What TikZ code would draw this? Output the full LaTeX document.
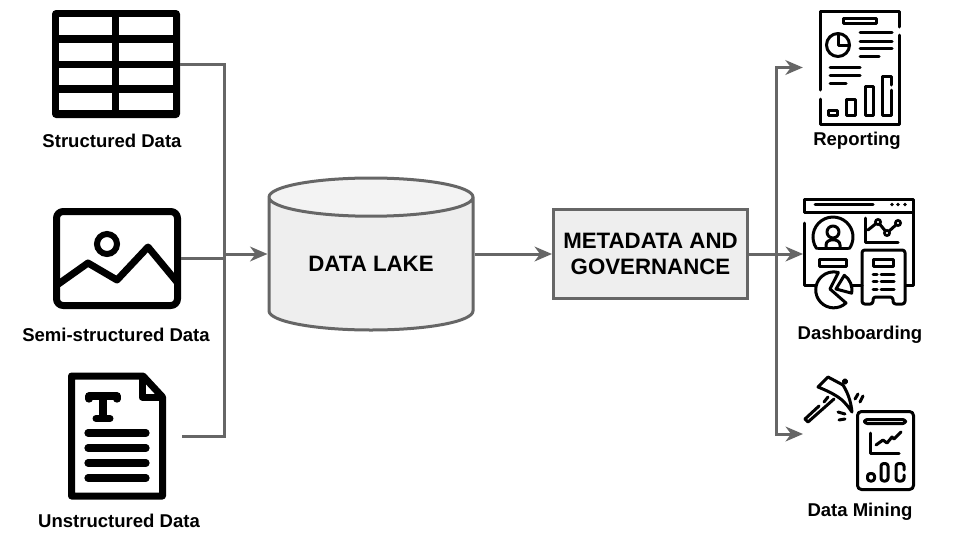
\documentclass[tikz,border=0pt]{standalone}
\usepackage{fontspec}
\setmainfont{Liberation Sans}
\definecolor{flowgrey}{HTML}{666666}
\definecolor{shapefill}{HTML}{EEEEEE}
\definecolor{lakecap}{HTML}{F3F3F3}
\usetikzlibrary{shapes.geometric, arrows.meta, positioning}
\tikzstyle{flowline} = [line width=2.25pt, color=flowgrey]
\tikzstyle{arrow} = [-{Stealth[length=13pt, width=11pt, inset=4pt]}, line width=2.25pt, color=flowgrey]

\begin{document}
\begin{tikzpicture}[x=0.75pt, y=-0.75pt,
    iconbox/.style={inner sep=0pt, outer sep=0pt},
    iconlabel/.style={inner sep=0pt, text height=10pt, text depth=3pt, font=\fontsize{13.9}{16}\selectfont\bfseries},
    metabox/.style={rectangle, draw=flowgrey, fill=shapefill, line width=2.25pt, minimum width=145.5pt, minimum height=67pt,
      inner sep=0pt, align=center, font=\fontsize{16.7}{19.5}\selectfont\bfseries},
    lakecyl/.style={cylinder, shape border rotate=90, aspect=0.305, draw=flowgrey, line width=2.25pt, cylinder uses custom fill,
      cylinder body fill=shapefill, cylinder end fill=lakecap, minimum width=153pt, minimum height=114pt, inner sep=0pt,
      font=\fontsize{16.7}{19.5}\selectfont\bfseries},
    thickicon/.style={line width=5.25pt, line cap=round, line join=round},
    thinicon/.style={line width=2.25pt, line cap=round, line join=round}
  ]
    \useasboundingbox (0,0) rectangle (960,540);

    % sources
    \node[iconbox, minimum width=96pt, minimum height=81pt] (tbl) at (116,64.5) {};
    \node[iconbox, minimum width=96pt, minimum height=76pt] (img) at (117,258.5) {};
    \node[iconbox, minimum width=85.5pt, minimum height=96pt] (doc) at (125,436) {};
    \node[iconlabel, below=11.5pt of tbl, xshift=-3pt] (tbllabel) {Structured Data};
    \node[iconlabel, below=14pt of img, xshift=-0.75pt] (imglabel) {Semi-structured Data};
    \node[iconlabel, below=10.5pt of doc, xshift=-4.5pt] (doclabel) {Unstructured Data};

    % table icon
    \fill[black, rounded corners=3pt] (52,10) rectangle (180,118);
    \foreach \ya/\yb in {17/35, 43/61, 68/85, 93/110} {
      \fill[white] (59,\ya) rectangle (112,\yb);
      \fill[white] (119,\ya) rectangle (173,\yb);
    }

    % picture icon
    \draw[thickicon, rounded corners=5pt] (56.5,211.5) rectangle (177.5,305.5);
    \draw[line width=4.5pt] (107,244) circle[radius=10];
    \draw[thickicon] (57,285) -- (88,263) -- (117,280) -- (148,247) -- (177,282);

    % text page icon
    \draw[thickicon] (71.5,376) -- (143,376) -- (162.5,397) -- (162.5,496) -- (71.5,496) -- cycle;
    \draw[thickicon] (142,377) -- (142,397) -- (162,397);
    \draw[line width=5.5pt, line cap=round, line join=round] (89,399) -- (89,396) -- (117,396) -- (117,399);
    \draw[line width=6.5pt] (103,396) -- (103,418);
    \draw[line width=5.25pt, line cap=round] (96,418.5) -- (110,418.5);
    \foreach \y in {433,448,463,478} {
      \draw[line width=5.4pt, line cap=round] (88,\y) -- (146,\y);
    }

    % centre
    \node[lakecyl, anchor=shape center] (lake) at (371,254) {\raisebox{1pt}{DATA LAKE}};
    \node[metabox, right=135.75pt of lake.shape center] (meta) {\raisebox{-0.75pt}{METADATA AND}\\\raisebox{-0.75pt}{GOVERNANCE}};

    % outputs
    \node[iconbox, minimum width=74.5pt, minimum height=86pt] (rep) at (852.5,67.5) {};
    \node[iconbox, minimum width=84pt, minimum height=79.5pt] (dash) at (859,250) {};
    \node[iconbox, minimum width=84pt, minimum height=85.5pt] (mine) at (859,434) {};
    \node[iconlabel, below=5pt of rep, xshift=3.4pt] (replabel) {Reporting};
    \node[iconlabel, below=17pt of dash, xshift=0.75pt] (dashlabel) {Dashboarding};
    \node[iconlabel, below=9pt of mine, xshift=0.75pt] (minelabel) {Data Mining};

    % report icon
    \draw[thinicon] (820.5,90) -- (820.5,11) -- (899.5,11) -- (899.5,27);
    \draw[thinicon] (820.5,99) -- (820.5,124) -- (899.5,124) -- (899.5,35);
    \draw[thinicon] (843.5,18.5) rectangle (876.5,23.5);
    \draw[thinicon] (838,45) circle[radius=11.5];
    \draw[thinicon] (838,33.5) -- (838,45) -- (849.5,45);
    \foreach \ya/\xb in {32/892, 41/892, 48/892, 56/879} {
      \draw[thinicon] (860,\ya) -- (\xb,\ya);
    }
    \foreach \ya/\xb in {67/860, 75/860, 83/846} {
      \draw[thinicon] (830,\ya) -- (\xb,\ya);
    }
    \draw[thinicon] (828.5,110.5) rectangle (837.5,115.5);
    \draw[thinicon] (846.5,99.5) rectangle (855.5,115.5);
    \draw[thinicon] (865.5,86.5) rectangle (873.5,115.5);
    \draw[thinicon] (891.5,85) -- (891.5,76.5) -- (882.5,76.5) -- (882.5,115.5) -- (891.5,115.5) -- (891.5,90);

    % dashboard icon
    \draw[thinicon] (804.5,212) -- (804.5,199) -- (913,199) -- (913,285) -- (906,285);
    \draw[thinicon] (804.5,212) -- (913,212);
    \draw[thinicon] (804.5,223) -- (804.5,285) -- (815,285);
    \draw[thinicon] (852,285) -- (862,285);
    \draw[thinicon] (815,204.5) -- (873,204.5);
    \foreach \x in {892,898,905} {
      \fill (\x,204.5) circle[radius=1.8];
    }
    \draw[thinicon] (816.6,248.5) arc[start angle=145, end angle=395, radius=20];
    \draw[thinicon] (818,248.5) -- (848,248.5);
    \draw[thinicon] (833,232) circle[radius=6];
    \draw[thinicon] (826,248) -- (826,245) .. controls (826,238) and (840,238) .. (840,245) -- (840,248);
    \draw[thinicon] (865,218) -- (865,242) -- (898,242);
    \draw[thinicon] (868,230) -- (878,222) -- (887,233) -- (898,223);
    \foreach \x/\y in {878/222, 887/233, 898/223} {
      \filldraw[fill=white, line width=2pt] (\x,\y) circle[radius=2.6];
    }
    \draw[thinicon] (819.5,259.5) rectangle (846.5,266.5);
    \draw[thinicon] (846,303) arc[start angle=47, end angle=285, radius=18] -- (830,289) -- cycle;
    \draw[thinicon] (844.3,275.3) arc[start angle=305, end angle=370, radius=18] -- (836,289) -- cycle;
    \draw[thinicon, rounded corners=2pt] (862,304) -- (862,250) -- (905,250) -- (905,304) -- (893,304) -- (893,297) -- (873,297) -- (873,304) -- cycle;
    \draw[thinicon] (873.5,259.5) rectangle (893.5,266.5);
    \foreach \y in {274,281,289} {
      \draw[thinicon] (873,\y) -- (877,\y);
      \draw[thinicon] (881,\y) -- (894,\y);
    }

    % mining icon
    \draw[thinicon] (805,419) -- (808,422) -- (834,399);
    \draw[thinicon] (805,419) -- (819,406);
    \draw[thinicon] (824,402) -- (828,397);
    \draw[thinicon] (818,387) -- (828,377) -- (843,385) .. controls (848,393) and (851,402) .. (852,412) .. controls (848,406) and (845,403) .. (842,400) .. controls (836,395) and (828,391) .. (818,387) -- cycle;
    \draw[thinicon] (845,381.5) circle[radius=1.8];
    \draw[thinicon] (855,399) -- (858,394);
    \draw[thinicon] (860,402) -- (863,396);
    \draw[thinicon] (838,412) -- (845,414);
    \draw[thinicon] (839,420) -- (845,419);
    \draw[thinicon, rounded corners=3pt] (857.5,411.5) rectangle (913.5,489.5);
    \draw[thinicon, rounded corners=2pt] (864.5,419.5) rectangle (905.5,423.5);
    \draw[thinicon] (870,433) -- (870,453) -- (899,453);
    \draw[thinicon] (876,445) -- (883,440) -- (887,443) -- (892,437) -- (894,439) -- (901,432);
    \draw[thinicon, rounded corners=2pt] (867.5,473.5) rectangle (874.5,481);
    \draw[thinicon, rounded corners=2pt] (881,463.5) rectangle (888,481);
    \draw[thinicon, rounded corners=2pt] (904,470) -- (904,463.5) -- (896,463.5) -- (896,481) -- (904,481) -- (904,475);

    % connectors
    \coordinate (leftbus) at (224,254);
    \coordinate (rightbus) at (776,254);
    \draw[flowline] (tbl.east) -| (leftbus);
    \draw[flowline] (img.east) -- (img.east -| leftbus);
    \draw[flowline] (doc.east) -| (leftbus);
    \draw[arrow] (leftbus) -- (leftbus -| lake.west);
    \draw[arrow] (meta.west -| lake.east) -- (meta.west);
    \draw[flowline] (meta.east) -- (rightbus);
    \draw[arrow] (rightbus) |- (rep.west);
    \draw[arrow] (rightbus) -- (dash.west |- rightbus);
    \draw[arrow] (rightbus) |- (mine.west);
\end{tikzpicture}
\end{document}
